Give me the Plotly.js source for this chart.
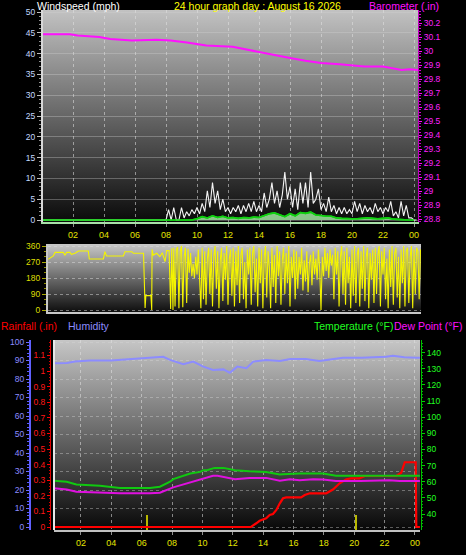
<!DOCTYPE html>
<html><head><meta charset="utf-8">
<script src="https://cdn.plot.ly/plotly-3.0.1.min.js"></script>
<style>html,body{margin:0;padding:0;background:#000;}#chart{width:466px;height:555px;}</style>
</head><body><div id="chart"></div>
<script>
// ---------------- data ----------------
const hourTicks = [2,4,6,8,10,12,14,16,18,20,22,24];
const hourTickText = ['02','04','06','08','10','12','14','16','18','20','22','00'];

// Barometer (inHg)
const baroHours = [0.06,1.8,2.3,3.7,4.4,5.8,7.4,8.3,9.35,10.6,12.3,13.6,14.0,15.0,16.0,17.0,18.0,19.2,20.0,20.8,22.0,22.8,23.2,23.7,24.26];
const baro = [30.12,30.12,30.11,30.10,30.085,30.075,30.08,30.075,30.06,30.04,30.03,30.0,29.995,29.97,29.95,29.93,29.915,29.905,29.895,29.89,29.89,29.875,29.865,29.87,29.865];

// Wind speed (mph)
const calmHours = [0.06, 8.0];
const calmSpeed = [0, 0];
const gustStart = 8.0, gustStep = 1/6;
const gust = [0,2.5,0,3,0,0, 3,0.5,2,1,2.5,1.5, 3,1.5,4,2,7,3, 9,4,7,2.5,5,2,
  3,1.5,3,2,3.5,1.5, 3.5,2,4,2,4.5,2, 3.5,2,6.5,3,5,9, 4,7,3,6,11.5,5,
  8,3,7.5,2.5,9,4, 9,3,11.5,4,5,7.5, 2.5,4,2,5.5,2,3.5, 1.5,3,1.5,3,1.5,2.5,
  1.5,4.5,2,4,1.5,3.5, 2,3,1.5,4,2,3, 1.5,3,2,4.5,1,2, 0.5,4.5,1,3.5,0.5,0.5, 0,0];
const avgStart = 8.0, avgStep = 1/3;
const avgSpeed = [0,0,0,0,0,0, 0.3,0.8,0.5,1.0,0.6,0.9, 0.5,0.6,0.4,0.6,0.5,0.7, 0.6,1.0,1.5,1.7,1.2,0.8,
  1.5,1.0,1.8,1.6,1.9,1.2, 1.1,0.9,0.9,0.5,0.4,0.3, 0.3,0.3,0.4,0.5,0.4,0.3, 0.4,0.5,0.2,0.1,0,0, 0];

// Wind direction (degrees)
const dirEarlyHours = [0.39,0.5,0.73,0.84,1.37,1.48,1.6,1.8,1.9,2.13,2.35,2.99,3.05,3.96,4.06,4.17,5.25,5.35,5.8,5.9,6.55,6.65,6.7,7.03,7.08,7.1,7.18,7.4,7.6,7.76,7.94,8.04,8.2,8.3,8.37,8.45];
const dirEarly = [285,291,304,324,324,309,324,324,313,319,332,332,287,287,328,304,304,328,328,319,319,11,81,81,0,341,309,319,300,322,272,334,334,5,347,0];
const dirLateStart = 8.5, dirLateStep = 1/12;
const dirLate = [
  350,20,340,355,10,330,360,15,300,350,40,345,
  210,320,190,260,180,300,200,340,180,10,350,60,
  330,30,290,350,90,340,20,300,360,120,330,10,
  280,350,50,320,170,360,30,290,340,80,350,20,
  330,140,360,40,310,350,60,270,10,340,200,350,
  30,320,360,100,290,20,350,150,340,10,300,360,
  70,330,240,10,350,130,310,40,360,190,330,30,
  280,350,90,320,150,360,20,300,180,340,60,330,
  120,300,200,350,110,280,160,330,100,260,310,140,
  330,200,290,170,340,230,0,300,190,350,220,320,
  180,340,250,310,60,350,200,330,20,300,360,90,
  330,30,350,150,300,10,340,80,360,40,310,350,
  20,330,120,360,50,300,350,10,320,170,340,40,
  350,90,310,360,20,330,200,350,60,290,10,340,
  130,360,30,320,350,70,300,10,340,150,360,20,
  330,350,40,300,360,10,340,90,350,330,60,340];
const compassTicks = [0,90,180,270,360];
const compassText = ['N','E','S','W','N'];

// Humidity (%)
const humHours = [0.22,1.08,1.6,2.6,3.98,4.9,5.96,6.56,7.42,7.87,8.74,9.4,10.06,10.7,11.38,11.8,12.3,12.9,13.35,14.2,15.1,15.8,16.8,17.7,19.26,20.5,22.1,22.55,23.3,24.1,24.33];
const hum = [88.5,88.6,89.5,90,90,90.5,91,91.2,92,90.3,88,89.4,86.7,84.9,85.2,83.4,86.7,85.8,89.4,90.3,89.7,90.8,90.8,89.7,91.5,91.5,92,92.6,91.8,91.5,91.5];

// Temperature (F)
const tempHours = [0.22,1.06,1.7,3.25,4.57,6.55,7.2,7.87,8.08,8.5,8.97,9.2,9.85,10.06,10.3,10.8,11.4,12.15,13.1,14.2,15.1,15.3,16.4,17.95,18.8,20.4,22.3,24.0,24.33];
const temp = [60.6,60,58.3,57.5,56.2,56.2,56.9,60,61.6,63,64.7,65.1,66.1,67.2,67.2,68.6,68.6,67.2,66.5,66.1,64.5,64.7,65.1,65.1,63.7,63.5,63.7,63.7,63.7];

// Dew point (F)
const dewHours = [0.22,1.06,1.7,3.25,4.57,6.55,7.2,8.08,8.97,10.06,10.7,11.0,12.15,13.1,14.2,15.1,15.77,16.4,17.3,17.95,18.8,20.4,22.3,23.0,24.0,24.33];
const dew = [55.9,55.2,53.8,53.4,52.8,52.8,53.2,56.5,58.9,62,63.7,63.7,61.6,62.4,62.4,60.6,61.6,61,61.6,61.4,60.4,60.4,61,60.4,60.4,60.4];

// Rainfall (in)
const rainHours = [0.22,12.9,13.2,13.55,13.77,14.2,14.43,14.65,14.87,15.1,15.31,15.53,16.5,16.74,17.07,18.16,18.6,19.04,19.48,19.8,20.36,20.7,22.77,23.1,23.33,24.05,24.09,24.33];
const rain = [0,0,0,0.024,0.04,0.056,0.077,0.083,0.109,0.152,0.184,0.19,0.19,0.205,0.216,0.216,0.24,0.28,0.306,0.312,0.312,0.327,0.327,0.348,0.415,0.415,0,0];

// yellow markers on rain axis
const markHours = [6.35, 20.1];
const markRain = [0.1, 0.1];

// ---------------- helpers ----------------
const W = 466, H = 555;
const px = v => v / W;
const py = v => 1 - v / H;
const series = (start, step, vals) => vals.map((_, i) => start + i * step);

function grad(top, bottom) {
  const svg = '<svg xmlns="http://www.w3.org/2000/svg" width="4" height="100" viewBox="0 0 4 100" preserveAspectRatio="none">' +
    '<defs><linearGradient id="g" x1="0" y1="0" x2="0" y2="1"><stop offset="0" stop-color="' + top + '"/>' +
    '<stop offset="1" stop-color="' + bottom + '"/></linearGradient></defs>' +
    '<rect x="0" y="0" width="4" height="100" fill="url(#g)"/></svg>';
  return 'data:image/svg+xml;charset=utf-8,' + encodeURIComponent(svg);
}

const FONT = 'Liberation Sans, Arial, sans-serif';
const gustHours = calmHours.concat(series(gustStart, gustStep, gust));
const gustAll = calmSpeed.concat(gust);
const avgHours = calmHours.concat(series(avgStart, avgStep, avgSpeed));
const avgAll = calmSpeed.concat(avgSpeed);
const dirHours = dirEarlyHours.concat(series(dirLateStart, dirLateStep, dirLate));
const dirAll = dirEarly.concat(dirLate);

const traces = [
  {x: avgHours, y: avgAll, xaxis: 'x', yaxis: 'y', type: 'scatter', mode: 'lines',
   line: {color: '#10d010', width: 1.6}, fill: 'tozeroy', fillcolor: 'rgba(160,230,160,0.85)'},
  {x: gustHours, y: gustAll, xaxis: 'x', yaxis: 'y', type: 'scatter', mode: 'lines',
   line: {color: '#f4f4f4', width: 1.1}},
  {x: avgHours, y: avgAll, xaxis: 'x', yaxis: 'y', type: 'scatter', mode: 'lines',
   line: {color: '#10d010', width: 1.6}},
  {x: baroHours, y: baro, xaxis: 'x', yaxis: 'y2', type: 'scatter', mode: 'lines',
   line: {color: '#ff10ff', width: 2}},
  {x: dirHours, y: dirAll, xaxis: 'x2', yaxis: 'y3', type: 'scatter', mode: 'lines',
   line: {color: '#f4f400', width: 1.1}},
  {x: humHours, y: hum, xaxis: 'x3', yaxis: 'y4', type: 'scatter', mode: 'lines',
   line: {color: '#8c8cff', width: 2}},
  {x: markHours, y: markRain, base: [-0.02, -0.02], width: 0.12, xaxis: 'x3', yaxis: 'y5', type: 'bar',
   marker: {color: '#b8b800', line: {width: 0}}},
  {x: tempHours, y: temp, xaxis: 'x3', yaxis: 'y6', type: 'scatter', mode: 'lines',
   line: {color: '#10c810', width: 2}},
  {x: dewHours, y: dew, xaxis: 'x3', yaxis: 'y6', type: 'scatter', mode: 'lines',
   line: {color: '#e010e0', width: 2}},
  {x: rainHours, y: rain, xaxis: 'x3', yaxis: 'y5', type: 'scatter', mode: 'lines',
   line: {color: '#ff0000', width: 2.2}}
];

const tickFontY = {family: FONT, size: 8.5};
const xCommon = {
  tickmode: 'array', tickvals: hourTicks, ticktext: hourTickText,
  tickfont: {family: FONT, size: 9, color: '#e4e400'},
  ticks: 'outside', ticklen: 3, tickcolor: '#909090',
  showgrid: true, gridcolor: 'rgba(225,225,225,0.55)', griddash: 'dot', gridwidth: 1,
  zeroline: false, fixedrange: true
};

const layout = {
  width: W, height: H, autosize: false,
  margin: {l: 0, r: 0, t: 0, b: 0, pad: 0},
  paper_bgcolor: '#000000', plot_bgcolor: 'rgba(0,0,0,0)',
  showlegend: false, hovermode: false, bargap: 0,
  font: {family: FONT, color: '#ffffff'},
  // top panel
  xaxis: Object.assign({}, xCommon, {
    domain: [px(43), px(418)], range: [(43 - 42) / 15.5, (418 - 42) / 15.5], anchor: 'y',
    showline: true, linecolor: '#a8e0a8', linewidth: 2
  }),
  yaxis: {
    domain: [py(222), py(10)], range: [-0.48, 50.48], anchor: 'x',
    tickmode: 'linear', tick0: 0, dtick: 5,
    tickfont: Object.assign({}, tickFontY, {color: '#c4d8ff'}),
    ticks: 'outside', ticklen: 4, tickcolor: '#c0c0c0',
    minor: {dtick: 1, ticks: 'outside', ticklen: 2, tickcolor: '#909090', showgrid: false},
    showgrid: true, gridcolor: 'rgba(210,210,210,0.35)', gridwidth: 1,
    showline: true, linecolor: '#d8d8d8', linewidth: 2, zeroline: false
  },
  yaxis2: {
    overlaying: 'y', side: 'right', anchor: 'x',
    range: [28.8 - 3 / 140, 28.8 + 209 / 140],
    tickmode: 'linear', tick0: 28.8, dtick: 0.1,
    tickfont: Object.assign({}, tickFontY, {color: '#ff20ff'}),
    ticks: 'outside', ticklen: 3, tickcolor: '#ff00ff',
    minor: {dtick: 0.02, ticks: 'outside', ticklen: 2, tickcolor: '#d000d0', showgrid: false},
    showgrid: false, showline: true, linecolor: '#c000c0', linewidth: 1, zeroline: false
  },
  // middle panel
  xaxis2: {
    domain: [px(48), px(421)], range: [(48 - 42) / 15.5, (421 - 42) / 15.5], anchor: 'y3',
    showticklabels: false, ticks: '', showgrid: false, zeroline: false,
    showline: true, linecolor: '#c8c8c8', linewidth: 2
  },
  yaxis3: {
    domain: [py(312), py(244)], range: [-11.25, 371.25], anchor: 'x2',
    tickmode: 'array', tickvals: compassTicks,
    tickfont: Object.assign({}, tickFontY, {color: '#dede00'}),
    ticks: 'outside', ticklen: 4, tickcolor: '#a8a800',
    minor: {tickmode: 'array', tickvals: [30,60,120,150,210,240,300,330], ticks: 'outside', ticklen: 2, tickcolor: '#909000', showgrid: false},
    showgrid: true, gridcolor: 'rgba(220,220,220,0.5)', griddash: 'dot',
    showline: true, linecolor: '#c8c8c8', linewidth: 2, zeroline: false
  },
  yaxis7: {
    overlaying: 'y3', side: 'right', anchor: 'x2',
    range: [-11.25, 371.25], tickmode: 'array', tickvals: compassTicks, ticktext: compassText,
    tickfont: {family: FONT, size: 12.5, color: '#ffff00'},
    ticks: 'outside', ticklen: 10, tickcolor: 'rgba(0,0,0,0)',
    showgrid: false, showline: false, zeroline: false
  },
  // bottom panel
  xaxis3: Object.assign({}, xCommon, {
    domain: [px(54), px(420)], range: [(54 - 50.6) / 15.18, (420 - 50.6) / 15.18], anchor: 'y4',
    showline: true, linecolor: '#c0c0c0', linewidth: 2
  }),
  yaxis4: {
    domain: [py(530), py(340)], range: [-1.62, 101.08], anchor: 'free', position: px(30), side: 'left',
    tickmode: 'linear', tick0: 0, dtick: 10,
    tickfont: Object.assign({}, tickFontY, {color: '#8c8cff'}),
    ticks: 'outside', ticklen: 3, tickcolor: '#6a6aff',
    minor: {dtick: 2, ticks: 'outside', ticklen: 2, tickcolor: '#5a5aff', showgrid: false},
    showgrid: true, gridcolor: 'rgba(215,215,215,0.4)', griddash: 'dot',
    showline: true, linecolor: '#6060ff', linewidth: 2, zeroline: false
  },
  yaxis5: {
    overlaying: 'y4', anchor: 'free', position: px(50), side: 'left',
    range: [-0.0192, 1.1987], tickmode: 'linear', tick0: 0, dtick: 0.1,
    tickfont: Object.assign({}, tickFontY, {color: '#ff1818'}),
    ticks: 'outside', ticklen: 3, tickcolor: '#ff0000',
    minor: {dtick: 0.02, ticks: 'outside', ticklen: 1, tickcolor: '#d00000', showgrid: false},
    showgrid: false, showline: true, linecolor: '#e00000', linewidth: 1, zeroline: false
  },
  yaxis6: {
    overlaying: 'y4', anchor: 'free', position: px(421), side: 'right',
    range: [30.08, 147.9], tickmode: 'linear', tick0: 0, dtick: 10,
    tickfont: Object.assign({}, tickFontY, {color: '#20ff20'}),
    ticks: 'outside', ticklen: 3, tickcolor: '#00d000',
    minor: {dtick: 2, ticks: 'outside', ticklen: 1, tickcolor: '#00b000', showgrid: false},
    showgrid: false, showline: true, linecolor: '#00c000', linewidth: 1, zeroline: false
  },
  images: [
    {source: grad('#c2c2c2', '#0a0a0a'), xref: 'paper', yref: 'paper', x: px(43), y: py(10),
     sizex: 375 / W, sizey: 212 / H, xanchor: 'left', yanchor: 'top', sizing: 'stretch', layer: 'below'},
    {source: grad('#c8c8c8', '#0e0e0e'), xref: 'paper', yref: 'paper', x: px(48), y: py(244),
     sizex: 373 / W, sizey: 68 / H, xanchor: 'left', yanchor: 'top', sizing: 'stretch', layer: 'below'},
    {source: grad('#c6c6c6', '#080808'), xref: 'paper', yref: 'paper', x: px(54), y: py(340),
     sizex: 366 / W, sizey: 190 / H, xanchor: 'left', yanchor: 'top', sizing: 'stretch', layer: 'below'}
  ],
  shapes: [
    {type: 'line', xref: 'paper', yref: 'paper', x0: px(54), x1: px(54), y0: py(530), y1: py(340),
     line: {color: '#e8e8e8', width: 2}}
  ],
  annotations: [
    {text: 'Windspeed (mph)', x: px(35), y: py(6), xref: 'paper', yref: 'paper', xanchor: 'left', yanchor: 'middle',
     showarrow: false, font: {family: FONT, size: 10.5, color: '#ffffff'}},
    {text: '24 hour graph day : August 16 2026', x: px(257), y: py(6), xref: 'paper', yref: 'paper', xanchor: 'center', yanchor: 'middle',
     showarrow: false, font: {family: FONT, size: 10.5, color: '#ffff00'}},
    {text: 'Barometer (.in)', x: px(441), y: py(6), xref: 'paper', yref: 'paper', xanchor: 'right', yanchor: 'middle',
     showarrow: false, font: {family: FONT, size: 10.5, color: '#ff10ff'}},
    {text: 'Rainfall (.in)', x: px(-1), y: py(326), xref: 'paper', yref: 'paper', xanchor: 'left', yanchor: 'middle',
     showarrow: false, font: {family: FONT, size: 10.5, color: '#ff0000'}},
    {text: 'Humidity', x: px(66), y: py(326), xref: 'paper', yref: 'paper', xanchor: 'left', yanchor: 'middle',
     showarrow: false, font: {family: FONT, size: 10.5, color: '#8c8cff'}},
    {text: 'Temperature (°F)', x: px(312), y: py(326), xref: 'paper', yref: 'paper', xanchor: 'left', yanchor: 'middle',
     showarrow: false, font: {family: FONT, size: 10.5, color: '#20ff20'}},
    {text: 'Dew Point (°F)', x: px(464), y: py(326), xref: 'paper', yref: 'paper', xanchor: 'right', yanchor: 'middle',
     showarrow: false, font: {family: FONT, size: 10.5, color: '#ff10ff'}}
  ]
};

Plotly.newPlot('chart', traces, layout, {staticPlot: true, displayModeBar: false});
</script>
</body></html>
